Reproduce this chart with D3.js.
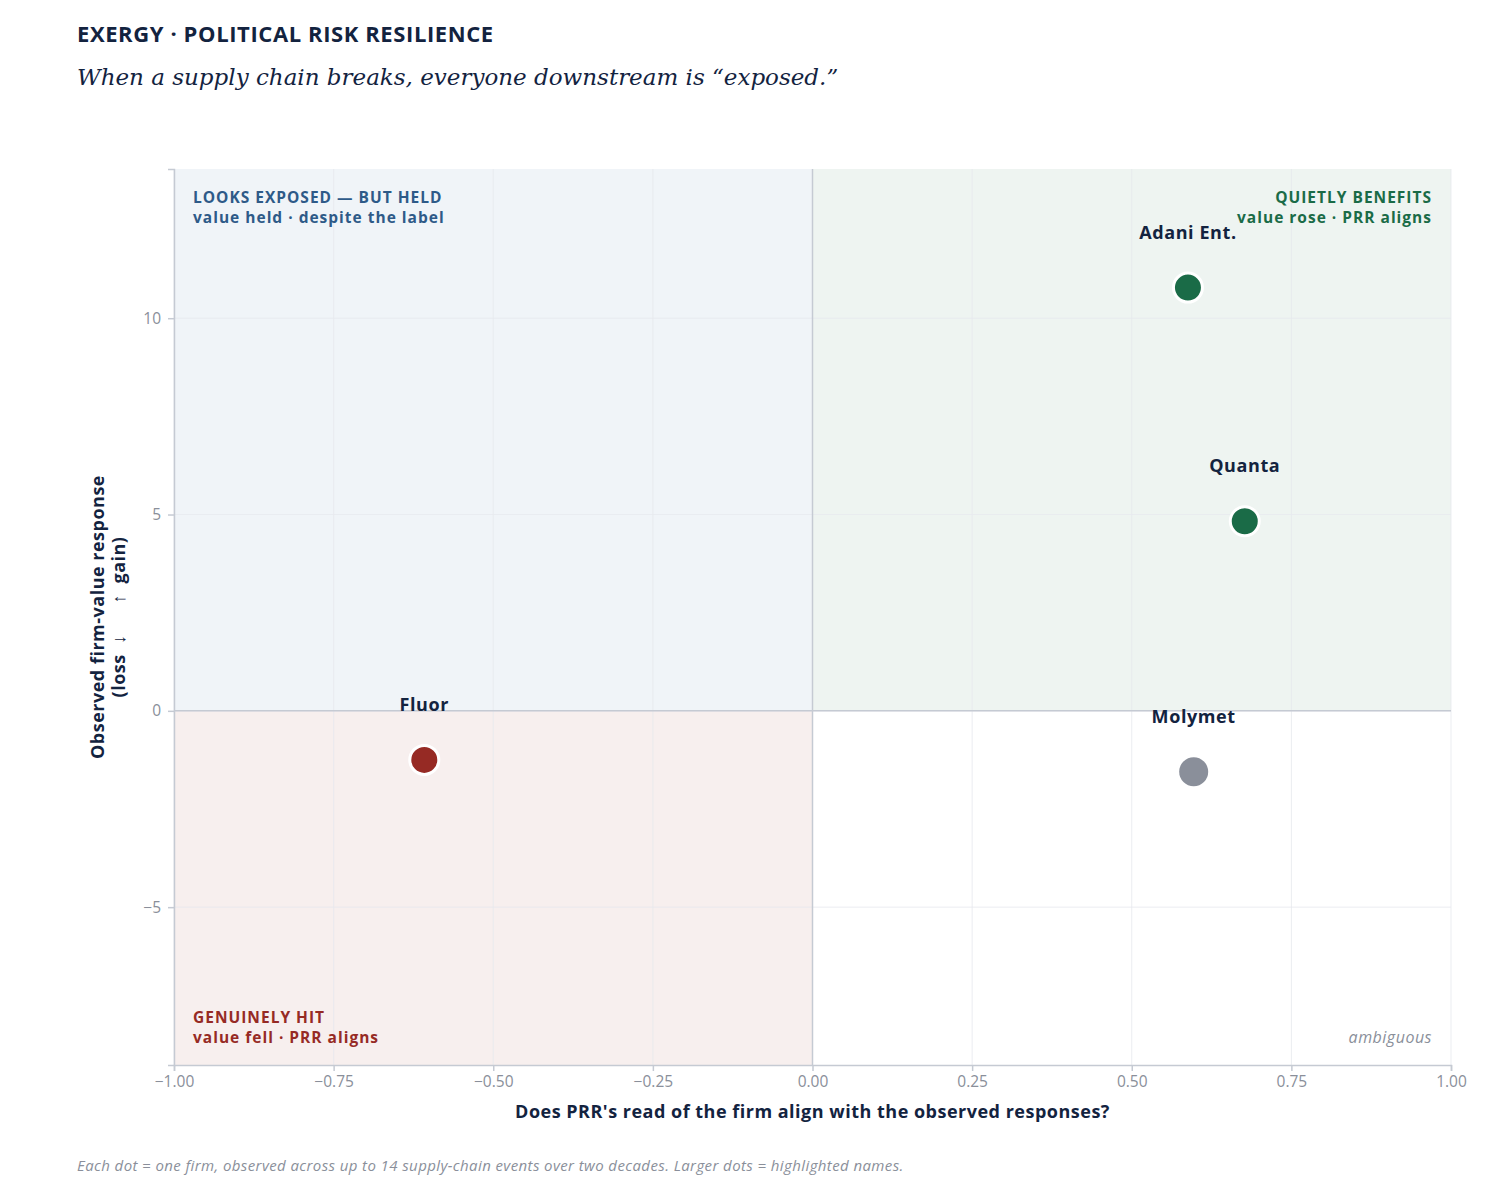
<!DOCTYPE html>
<html><head><meta charset="utf-8">
<script src="https://cdn.jsdelivr.net/npm/d3@7"></script>
<style>
body{margin:0;background:#fff;}
svg{display:block;font-family:"Open Sans","Noto Sans",sans-serif;}
</style></head><body>
<svg id="c" width="1512" height="1204"></svg>
<script>
const firms = ["Adani Ent.", "Quanta", "Fluor", "Molymet"];
const alignment = [0.588, 0.677, -0.608, 0.597];
const response = [10.78, 4.83, -1.25, -1.55];
const groups = ["benefit", "benefit", "hit", "ambiguous"];
const xTicks = [-1, -0.75, -0.5, -0.25, 0, 0.25, 0.5, 0.75, 1];
const yTicks = [-5, 0, 5, 10];
const colors = {benefit:"#1a6b47", hit:"#962a24", ambiguous:"#8a8f9a"};

const svg = d3.select("#c");
const L=174, R=1451, T=169, B=1065;
const x = d3.scaleLinear().domain([-1,1]).range([L,R]);
const y = d3.scaleLinear().domain([-9.02,13.8]).range([B,T]);

// quadrants
const quads = [
  {x0:-1,x1:0,y0:0,y1:13.8,fill:"#f0f4f8"},
  {x0:0,x1:1,y0:0,y1:13.8,fill:"#eef4f1"},
  {x0:-1,x1:0,y0:-9.02,y1:0,fill:"#f7efee"}
];
svg.selectAll("rect.q").data(quads).join("rect")
  .attr("x",d=>x(d.x0)).attr("width",d=>x(d.x1)-x(d.x0))
  .attr("y",d=>y(d.y1)).attr("height",d=>y(d.y0)-y(d.y1))
  .attr("fill",d=>d.fill);

// grid
svg.append("g").selectAll("line").data(xTicks).join("line")
  .attr("x1",d=>x(d)).attr("x2",d=>x(d)).attr("y1",T).attr("y2",B)
  .attr("stroke","#e6e8ee").attr("stroke-opacity",0.8).attr("stroke-width",1);
svg.append("g").selectAll("line").data(yTicks).join("line")
  .attr("x1",L).attr("x2",R).attr("y1",d=>y(d)).attr("y2",d=>y(d))
  .attr("stroke","#e6e8ee").attr("stroke-opacity",0.8).attr("stroke-width",1);

// zero lines
svg.append("line").attr("x1",x(0)).attr("x2",x(0)).attr("y1",T).attr("y2",B)
  .attr("stroke","#c5cad3").attr("stroke-width",1.5);
svg.append("line").attr("x1",L).attr("x2",R).attr("y1",y(0)).attr("y2",y(0))
  .attr("stroke","#c5cad3").attr("stroke-width",1.5);

// axes
const fmtX = d=>d3.format(".2f")(d).replace("-","\u2212");
const xAxis = svg.append("g").attr("transform",`translate(0,${B})`)
  .call(d3.axisBottom(x).tickValues(xTicks).tickFormat(fmtX).tickSize(6).tickPadding(5));
const yAxis = svg.append("g").attr("transform",`translate(${L},0)`)
  .call(d3.axisLeft(y).tickValues(yTicks).tickFormat(d=>String(d).replace("-","\u2212")).tickSize(6).tickPadding(7));
[xAxis,yAxis].forEach(a=>{
  a.select(".domain").attr("stroke","#c5cad3").attr("stroke-width",1.5);
  a.selectAll(".tick line").attr("stroke","#c5cad3").attr("stroke-width",1.5);
  a.selectAll(".tick text").attr("fill","#8a8f9a").style("font-size","15.5px").style("font-family","'Open Sans',sans-serif");
});

// quadrant labels
const ql = svg.append("g").style("font-weight","700").style("font-size","15.5px").style("letter-spacing","1px");
ql.append("text").attr("x",193).attr("y",203).attr("fill","#2e5a88").text("LOOKS EXPOSED \u2014 BUT HELD");
ql.append("text").attr("x",193).attr("y",223).attr("fill","#2e5a88").text("value held \u00b7 despite the label");
ql.append("text").attr("x",1432).attr("y",203).attr("fill","#1a6b47").attr("text-anchor","end").text("QUIETLY BENEFITS");
ql.append("text").attr("x",1432).attr("y",223).attr("fill","#1a6b47").attr("text-anchor","end").text("value rose \u00b7 PRR aligns");
ql.append("text").attr("x",193).attr("y",1023).attr("fill","#962a24").text("GENUINELY HIT");
ql.append("text").attr("x",193).attr("y",1043).attr("fill","#962a24").text("value fell \u00b7 PRR aligns");
svg.append("text").attr("x",1432).attr("y",1043).attr("text-anchor","end")
  .attr("fill","#8a8f9a").style("font-style","italic").style("font-size","16px").style("letter-spacing","0.5px").text("ambiguous");

// points
const pts = firms.map((f,i)=>({name:f,x:alignment[i],y:response[i],g:groups[i]}));
svg.append("g").selectAll("circle").data(pts).join("circle")
  .attr("cx",d=>x(d.x)).attr("cy",d=>y(d.y)).attr("r",14.5)
  .attr("fill",d=>colors[d.g])
  .attr("stroke",d=>d.g==="ambiguous"?"none":"#fff").attr("stroke-width",3);
svg.append("g").selectAll("text").data(pts).join("text")
  .attr("x",d=>x(d.x)).attr("y",d=>y(d.y)-49).attr("text-anchor","middle")
  .attr("fill","#13233f").style("font-weight","700").style("font-size","18px").style("letter-spacing","0.6px")
  .text(d=>d.name);

// axis titles
svg.append("text").attr("x",x(0)).attr("y",1118).attr("text-anchor","middle")
  .attr("fill","#13233f").style("font-weight","700").style("font-size","18px").style("letter-spacing","0.5px")
  .text("Does PRR's read of the firm align with the observed responses?");
const yt = svg.append("text").attr("transform",`translate(104,${(T+B)/2}) rotate(-90)`)
  .attr("text-anchor","middle").attr("fill","#13233f").style("font-weight","700").style("font-size","18px")
  .style("letter-spacing","0.5px").style("white-space","pre");
yt.append("tspan").attr("x",0).attr("dy",0).text("Observed firm-value response");
yt.append("tspan").attr("x",0).attr("dy",21).text("(loss  \u2193      \u2191  gain)");

// title
svg.append("text").attr("x",77).attr("y",42).attr("fill","#13233f")
  .style("font-weight","700").style("font-size","22px").style("letter-spacing","0.6px").text("EXERGY \u00b7 POLITICAL RISK RESILIENCE");
svg.append("text").attr("x",77).attr("y",85).attr("fill","#13233f")
  .style("font-family","'DejaVu Serif',Georgia,serif").style("font-style","italic").style("font-size","23px")
  .text("When a supply chain breaks, everyone downstream is \u201cexposed.\u201d");

// footnote
svg.append("text").attr("x",77).attr("y",1171).attr("fill","#8a8f9a")
  .style("font-style","italic").style("font-size","15px").style("letter-spacing","0.4px")
  .text("Each dot = one firm, observed across up to 14 supply-chain events over two decades. Larger dots = highlighted names.");
</script></body></html>
